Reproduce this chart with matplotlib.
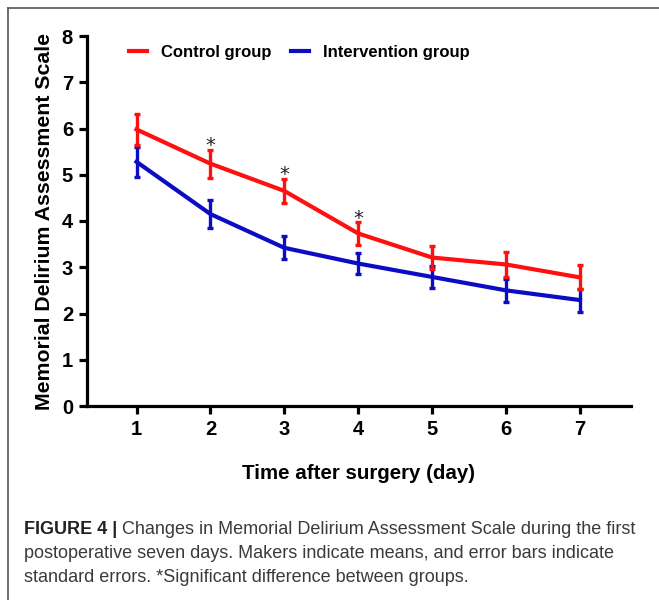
import matplotlib
matplotlib.use('Agg')
import matplotlib.pyplot as plt
from matplotlib.lines import Line2D
from matplotlib import font_manager

plt.rcParams['font.family'] = ['Liberation Sans', 'DejaVu Sans']

# data
days = [1, 2, 3, 4, 5, 6, 7]
control_mean = [5.98, 5.24, 4.65, 3.73, 3.21, 3.06, 2.78]
control_se = [0.33, 0.30, 0.26, 0.24, 0.25, 0.27, 0.26]
interv_mean = [5.28, 4.15, 3.42, 3.08, 2.79, 2.50, 2.29]
interv_se = [0.32, 0.30, 0.25, 0.23, 0.24, 0.25, 0.25]
signif_days = [2, 3, 4]

red = '#ff1010'
blue = '#0c0cc4'

fig = plt.figure(figsize=(6.59, 6.0), dpi=100)
ax = fig.add_axes([87 / 659, 1 - 406 / 600, (631 - 87) / 659, (406 - 36) / 600])

ax.errorbar(days, interv_mean, yerr=interv_se, color=blue, lw=3, elinewidth=2.4,
            capsize=2.2, capthick=2.4, zorder=3)
ax.errorbar(days, control_mean, yerr=control_se, color=red, lw=3, elinewidth=2.4,
            capsize=2.2, capthick=2.4, zorder=4)

for d in signif_days:
    i = days.index(d)
    ax.text(d, control_mean[i] + control_se[i] - 0.12, '*', ha='center', va='bottom',
            fontsize=14, color='#222222', family='DejaVu Sans')

ax.set_xlim(0.33, 7.69)
ax.set_ylim(0, 8)
ax.set_xticks(days)
ax.set_yticks(range(0, 9))
for s in ['top', 'right']:
    ax.spines[s].set_visible(False)
for s in ['left', 'bottom']:
    ax.spines[s].set_linewidth(2.3)
ax.tick_params(width=2.3, length=6, labelsize=14.5, pad=4)
for lab in ax.get_xticklabels() + ax.get_yticklabels():
    lab.set_fontweight('bold')

ax.set_xlabel('Time after surgery (day)', fontsize=14.8, fontweight='bold', labelpad=18)
ax.set_ylabel('Memorial Delirium Assessment Scale', fontsize=15.3, fontweight='bold', labelpad=6)

handles = [Line2D([], [], color=red, lw=3), Line2D([], [], color=blue, lw=3)]
ax.legend(handles, ['Control group', 'Intervention group'], loc='center left',
          bbox_to_anchor=(0.05, 0.956), ncol=2, frameon=False, handlelength=1.05,
          columnspacing=1.2, handletextpad=0.85,
          prop={'size': 12, 'weight': 'bold'})

# frame lines of the figure panel (top and left only)
fig.add_artist(Line2D([8 / 659, 1], [1 - 8 / 600, 1 - 8 / 600], color='#555555', lw=1.2))
fig.add_artist(Line2D([8 / 659, 8 / 659], [0, 1 - 8 / 600], color='#555555', lw=1.2))

# caption
cap_color = '#3a3a3a'
x0 = 24 / 659
bold = fig.text(x0, 1 - 534 / 600, 'FIGURE 4 | ', fontsize=13, fontweight='bold',
                color='#222222', va='baseline')
fig.canvas.draw()
bb = bold.get_window_extent()
fig.text(bb.x1 / fig.bbox.width, 1 - 534 / 600,
         'Changes in Memorial Delirium Assessment Scale during the first',
         fontsize=13, color=cap_color, va='baseline')
fig.text(x0, 1 - 558 / 600,
         'postoperative seven days. Makers indicate means, and error bars indicate',
         fontsize=13, color=cap_color, va='baseline')
fig.text(x0, 1 - 582 / 600,
         'standard errors. *Significant difference between groups.',
         fontsize=13, color=cap_color, va='baseline')

fig.savefig('out.png', dpi=100)
